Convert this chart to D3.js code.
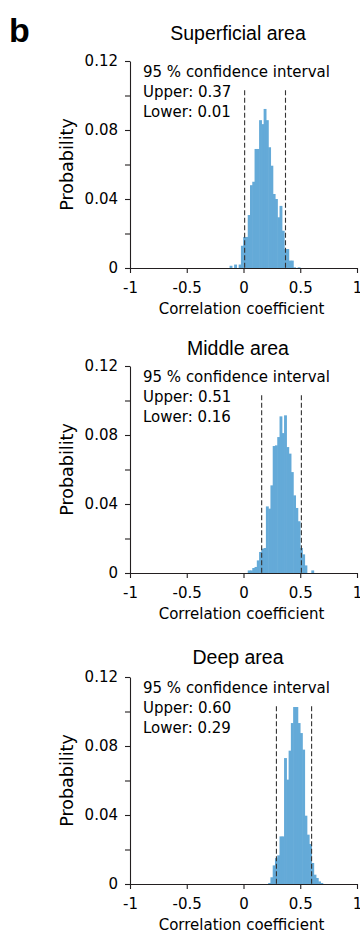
<!DOCTYPE html>
<html>
<head>
<meta charset="utf-8">
<script src="https://cdn.jsdelivr.net/npm/d3@7"></script>
<style>
  body { margin: 0; background: #fff; }
  svg { display: block; font-family: "Liberation Sans", Arial, sans-serif; }
</style>
</head>
<body>
<div id="chart"></div>
<script>
// Histogram data: probability per bin of width 0.02, first bin starting at binStarts[i]
const binWidth = 0.02;
const areaNames = ["Superficial area", "Middle area", "Deep area"];
const binStarts = [-0.12, 0.04, 0.22];
const superficialProb = [0.0013, 0, 0.002, 0, 0.002, 0.0129, 0.018, 0.018, 0.0307, 0.048,
  0.050, 0.069, 0.069, 0.0857, 0.0834, 0.0922, 0.0857, 0.070, 0.0593, 0.0429,
  0.040, 0.0294, 0.036, 0.0216, 0.011, 0.011, 0.0043, 0.0043, 0.0004, 0, 0.0004];
const middleProb = [0.0015, 0.0015, 0.0029, 0.0035, 0.0073, 0.0122, 0.0141, 0.0145, 0.0386, 0.0373,
  0.0508, 0.0736, 0.074, 0.0788, 0.0908, 0.0811, 0.0914, 0.073, 0.0692, 0.0585,
  0.045, 0.0377, 0.030, 0.0145, 0.0108, 0.0044, 0, 0, 0.0015];
const deepProb = [0.0006, 0.0039, 0.0108, 0.015, 0.0166, 0.0276, 0.0276, 0.073, 0.0605, 0.0773,
  0.0933, 0.1026, 0.1026, 0.0933, 0.0875, 0.0779, 0.0396, 0.0286, 0.0232, 0.0122,
  0.0054, 0.0035, 0.0015, 0.0006];
const upperBounds = [0.37, 0.51, 0.60];
const lowerBounds = [0.01, 0.16, 0.29];
const xTicks = [-1, -0.5, 0, 0.5, 1];
const yTicks = [0, 0.02, 0.04, 0.06, 0.08, 0.10, 0.12];
const yLabelled = [0, 0.04, 0.08, 0.12];

const probs = [superficialProb, middleProb, deepProb];

// layout
const width = 360, height = 936;
const panelTops = [61, 366, 677];
const titleYs = [40, 355, 664];
const innerHeight = 207;
const axisLeft = 130, innerWidth = 227;
const barColor = "#64aad8";
const ink = "#000";
const bodyFont = "'DejaVu Sans', sans-serif";

const svg = d3.select("#chart")
  .append("svg")
    .attr("width", width)
    .attr("height", height)
    .attr("viewBox", `0 0 ${width} ${height}`);

// panel letter
svg.append("text")
  .text("b")
  .attr("x", 9)
  .attr("y", 42)
  .attr("font-size", "34px")
  .attr("font-weight", "bold")
  .attr("fill", "#000");

const xScale = d3.scaleLinear()
  .domain([-1, 1])
  .range([axisLeft, axisLeft + innerWidth]);

const fmtX = d => d === 0 ? "0" : String(d);
const isLabelled = d => yLabelled.some(v => Math.abs(v - d) < 1e-9);
const fmtY = d => isLabelled(d) ? (d === 0 ? "0" : d.toFixed(2)) : "";

areaNames.forEach((name, i) => {
  const top = panelTops[i];
  const bottom = top + innerHeight;
  const bins = probs[i].map((p, k) => ({ x0: binStarts[i] + k * binWidth, p: p }));

  const yScale = d3.scaleLinear()
    .domain([0, 0.12])
    .range([bottom, top]);

  // title
  svg.append("text")
    .text(name)
    .attr("x", 238)
    .attr("y", titleYs[i])
    .attr("text-anchor", "middle")
    .attr("font-size", "19.5px")
    .attr("fill", "#000");

  // bars
  svg.append("g")
    .selectAll(".bar")
    .data(bins.filter(d => d.p > 0))
    .join("rect")
      .attr("class", "bar")
      .attr("x", d => xScale(d.x0) - 0.3)
      .attr("width", xScale(binWidth) - xScale(0) + 0.6)
      .attr("y", d => yScale(d.p))
      .attr("height", d => yScale(0) - yScale(d.p))
      .attr("fill", barColor);

  // confidence interval dashed lines
  svg.append("g")
    .selectAll(".ci")
    .data([lowerBounds[i], upperBounds[i]])
    .join("line")
      .attr("class", "ci")
      .attr("x1", d => xScale(d))
      .attr("x2", d => xScale(d))
      .attr("y1", yScale(0.103))
      .attr("y2", yScale(0))
      .attr("stroke", "#333")
      .attr("stroke-width", 1.1)
      .attr("stroke-dasharray", "5,2.5");

  // axes
  const bottomAxis = d3.axisBottom(xScale)
    .tickValues(xTicks)
    .tickFormat(fmtX)
    .tickSize(5)
    .tickSizeOuter(0)
    .tickPadding(9);
  const xg = svg.append("g")
    .attr("transform", `translate(0, ${bottom})`)
    .call(bottomAxis);

  const leftAxis = d3.axisLeft(yScale)
    .tickValues(yTicks)
    .tickFormat(fmtY)
    .tickSize(5)
    .tickSizeOuter(0)
    .tickPadding(7);
  const yg = svg.append("g")
    .attr("transform", `translate(${axisLeft}, 0)`)
    .call(leftAxis);

  // minor ticks carry no label
  yg.selectAll(".tick text").filter(d => !isLabelled(d)).remove();

  [xg, yg].forEach(a => {
    a.select(".domain").attr("stroke", "#231f20").attr("stroke-width", 1.1);
    a.selectAll(".tick line").attr("stroke", "#231f20").attr("stroke-width", 1.1);
    a.selectAll(".tick text")
      .attr("fill", ink)
      .attr("font-size", "15px")
      .attr("font-family", bodyFont);
  });

  // x axis label
  svg.append("text")
    .text("Correlation coefficient")
    .attr("x", axisLeft + innerWidth / 2 - 2)
    .attr("y", bottom + 46)
    .attr("text-anchor", "middle")
    .attr("font-size", "15px")
    .attr("font-family", bodyFont)
    .attr("fill", ink);

  // y axis label
  svg.append("text")
    .text("Probability")
    .attr("transform", `translate(${axisLeft - 57}, ${top + innerHeight / 2}) rotate(-90)`)
    .attr("text-anchor", "middle")
    .attr("font-size", "17.5px")
    .attr("font-family", bodyFont)
    .attr("fill", ink);

  // confidence interval text
  const ciLines = [
    "95 % confidence interval",
    `Upper: ${upperBounds[i].toFixed(2)}`,
    `Lower: ${lowerBounds[i].toFixed(2)}`
  ];
  svg.append("g")
    .selectAll(".ci-text")
    .data(ciLines)
    .join("text")
      .attr("class", "ci-text")
      .text(d => d)
      .attr("x", axisLeft + 13)
      .attr("y", (d, k) => top + 16 + k * 20)
      .attr("font-size", "15px")
      .attr("font-family", bodyFont)
      .attr("fill", ink);
});
</script>
</body>
</html>
